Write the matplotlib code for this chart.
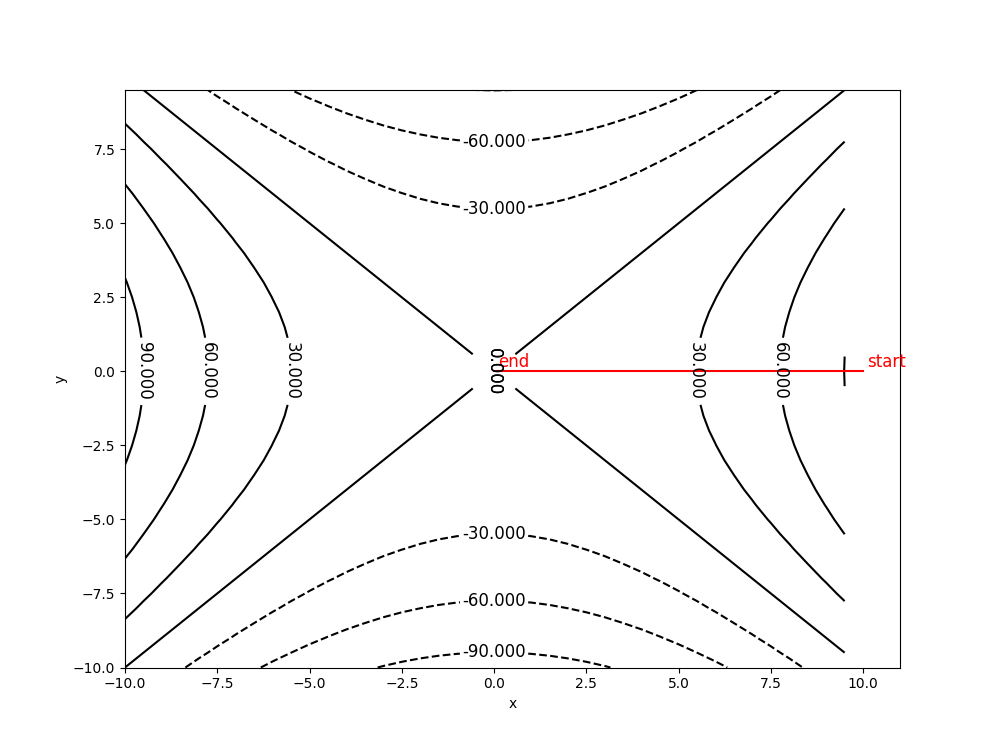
import numpy as np
import matplotlib
matplotlib.use('Agg')
import matplotlib.pyplot as plt

# grid and contour levels
xs = np.arange(-10, 10, 0.5)
ys = np.arange(-10, 10, 0.5)
levels = [-90, -60, -30, 30, 60, 90]
zero_level = [0]

# path drawn in red
path_x = [10, 0]
path_y = [0, 0]

X, Y = np.meshgrid(xs, ys)
Z = X**2 - Y**2

fig = plt.figure(figsize=(10, 7.5), dpi=100)
ax = fig.add_subplot(111)
cs = ax.contour(X, Y, Z, levels=levels, colors='k')
ax.clabel(cs, inline=True, fmt='%.3f', fontsize=12)

# zero level: label both branches at the saddle
cs0 = ax.contour(X, Y, Z, levels=zero_level, colors='k')
ax.clabel(cs0, inline=True, fmt='%.3f', fontsize=12, manual=[(0, 0), (0, 0)])

ax.plot(path_x, path_y, 'r')
ax.text(path_x[0] + 0.1, 0.15, 'start', color='r', fontsize=12)
ax.text(path_x[-1] + 0.1, 0.15, 'end', color='r', fontsize=12)

ax.set_xlim(-10, 11)
ax.set_ylim(-10, 9.5)
ax.set_xlabel('x')
ax.set_ylabel('y')
fig.savefig('out.png')
